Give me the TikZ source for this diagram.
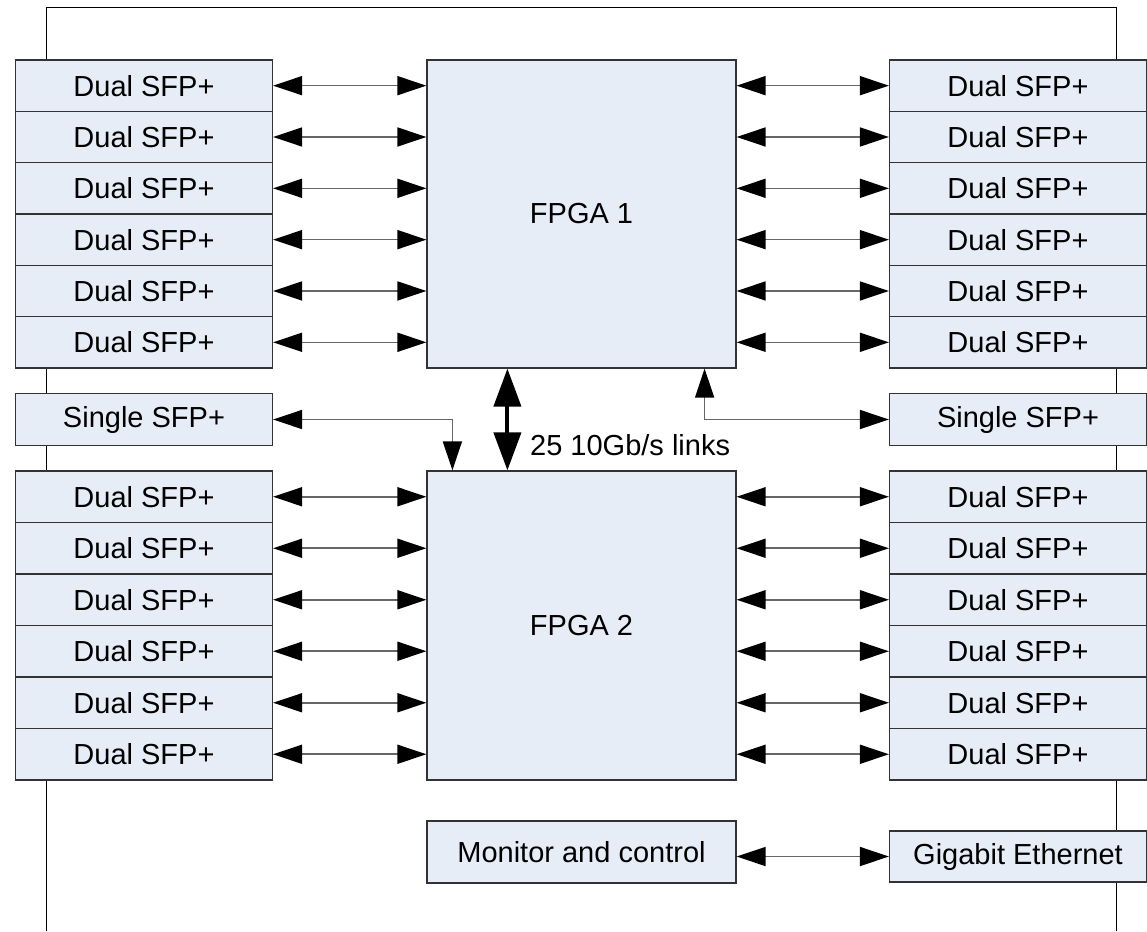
\documentclass[tikz,border=0pt]{standalone}
\usepackage{fontspec}
\setmainfont{Liberation Sans}
\usepackage{tikz}
\usetikzlibrary{arrows.meta,positioning}
\definecolor{boxfill}{RGB}{231,237,247}

\begin{document}
\begin{tikzpicture}[x=1pt, y=-1pt,
  box/.style={draw=black!80, line width=1.2pt, fill=boxfill, inner sep=0pt,
              font=\fontsize{29}{34}\selectfont},
  sfp/.style={box, minimum width=257pt, minimum height=51.4pt},
  lab/.style={font=\fontsize{29}{34}\selectfont, inner sep=0pt},
  link/.style={draw=black!60, line width=1.6pt, <->},
  bus/.style={draw=black, line width=4pt,
              {Triangle[length=38pt,width=27pt]}-{Triangle[length=38pt,width=27pt]}},
  >={Triangle[length=29pt,width=19pt,color=black]}]
\useasboundingbox (0,0) rectangle (1147,931);
\draw[line width=1pt] (46,931) -- (46,8) -- (1116,8) -- (1116,931);

\node[box, minimum width=309pt, minimum height=308pt] (fpga1) at (581.5,214) {FPGA 1};
\node[box, minimum width=309pt, minimum height=309pt] (fpga2) at (581.5,625.5) {FPGA 2};

\foreach \i in {1,...,6} {
  \pgfmathsetmacro\ya{60+51.33*(\i-0.5)}
  \pgfmathsetmacro\yb{471+51.5*(\i-0.5)}
  \node[sfp] (la\i) at (144,\ya) {Dual SFP+};
  \node[sfp] (ra\i) at (1018,\ya) {Dual SFP+};
  \node[sfp] (lb\i) at (144,\yb) {Dual SFP+};
  \node[sfp] (rb\i) at (1018,\yb) {Dual SFP+};
  \draw[link] (la\i.east) -- (la\i.east -| fpga1.west);
  \draw[link] (ra\i.west -| fpga1.east) -- (ra\i.west);
  \draw[link] (lb\i.east) -- (lb\i.east -| fpga2.west);
  \draw[link] (rb\i.west -| fpga2.east) -- (rb\i.west);
}

\node[sfp] (ls) at (144,419.5) {Single SFP+};
\node[sfp] (rs) at (1018,419.5) {Single SFP+};
\draw[link] (ls.east) -| ([xshift=26pt]fpga2.north west);
\draw[link] ([xshift=-32pt]fpga1.south east) |- (rs.west);

\draw[bus] ([xshift=81pt]fpga1.south west) -- ([xshift=81pt]fpga2.north west);
\node[lab, anchor=west] (links) at (530,445) {25 10Gb/s links};

\node[box, minimum width=309pt, minimum height=62pt] (mon) at (581.5,852) {Monitor and control};
\node[box, minimum width=257pt, minimum height=51pt] (gbe) at (1018,856.5) {Gigabit Ethernet};
\draw[link] (mon.east |- gbe.west) -- (gbe.west);
\end{tikzpicture}
\end{document}
